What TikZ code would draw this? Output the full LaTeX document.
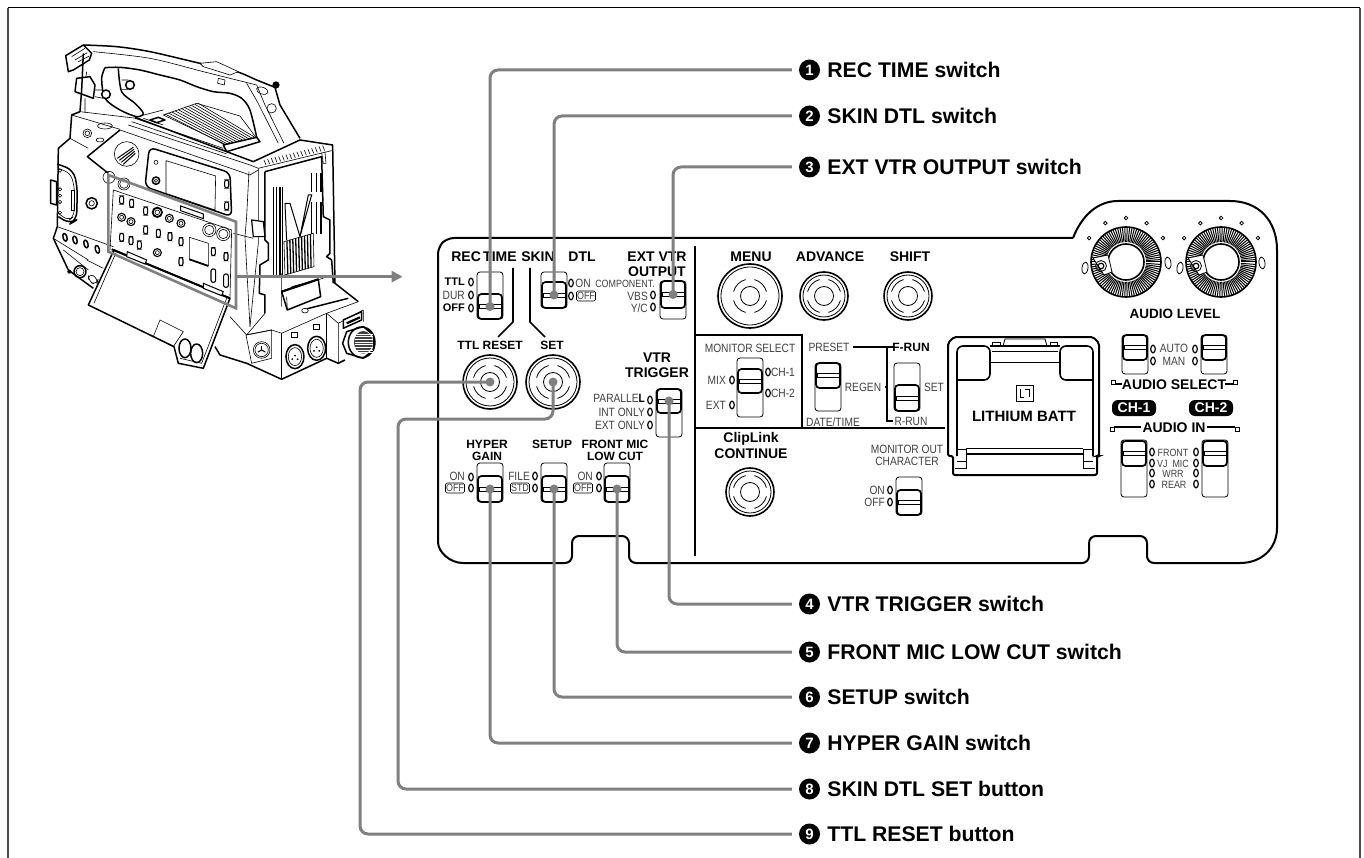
\documentclass[tikz,border=0pt]{standalone}
\usepackage{fontspec}
\setmainfont{Liberation Sans}
\newfontfamily\condfont[FakeStretch=0.85]{Liberation Sans}
\usetikzlibrary{arrows.meta,positioning}
\definecolor{leadgray}{gray}{0.5}
\definecolor{smalltext}{gray}{0.25}
\tikzset{
    panelline/.style={line width=1.6pt},
    thinline/.style={line width=0.8pt},
    camthick/.style={line width=1.5pt,line join=round},
    camthin/.style={line width=0.6pt,line join=round},
    leader/.style={draw=leadgray,line width=3pt,rounded corners=8pt},
    head/.style={inner sep=0pt,font=\bfseries\fontsize{14}{14}\selectfont},
    subhead/.style={inner sep=0pt,font=\bfseries\fontsize{12}{12}\selectfont},
    tiny/.style={inner sep=0pt,text=smalltext,font=\condfont\fontsize{12}{12}\selectfont},
    tinier/.style={inner sep=0pt,text=smalltext,font=\condfont\fontsize{10.5}{10.5}\selectfont},
    boxed/.style={tinier,draw=black,line width=0.6pt,rounded corners=1.5pt,minimum width=19pt,minimum height=10pt},
    numdot/.style={circle,fill=black,text=white,inner sep=0pt,minimum size=21pt,font=\bfseries\fontsize{15}{15}\selectfont},
    swlabel/.style={inner sep=0pt,font=\bfseries\fontsize{21.2}{22}\selectfont},
    pill/.style={fill=black,text=white,rounded corners=6pt,minimum width=44pt,minimum height=16pt,inner sep=0pt,font=\bfseries\fontsize{14}{14}\selectfont},
}
% name, left, slot top, slot bottom, thumb top, thumb bottom
\newcommand{\slideswitch}[6]{
    \draw[thinline,rounded corners=3pt] (#2,#3) rectangle ({#2+26},#4);
    \draw[fill=white,line width=1.7pt,rounded corners=3.5pt] ({#2+1},#5) rectangle ({#2+25},#6);
    \draw[line width=0.7pt] ({#2+2},{(#5+#6)/2-2}) rectangle ({#2+24},{(#5+#6)/2+2});
    \coordinate (#1) at ({#2+13},{(#5+#6)/2});
}
% name, x, y, outer radius
\newcommand{\pushbutton}[4]{
    \draw[panelline] (#2,#3) circle (#4);
    \draw[thinline] (#2,#3) circle ({#4-3});
    \draw[thinline] (#2,#3) circle (9.5);
    \foreach \a in {15,105,195,285}
        \draw[thinline] (#2,#3) ++(\a:17) arc[start angle=\a,delta angle=60,radius=17];
    \coordinate (#1) at (#2,#3);
}
\newcommand{\audioknob}[3]{
    \foreach \a in {0,4,...,356}
        \draw[line width=1pt] (#2,#3) ++(\a:20) -- ++(\a:15);
    \draw[panelline] (#2,#3) circle (35);
    \draw[panelline,fill=white] (#2,#3) circle (18);
    \foreach \a in {33,62,90,118,147}
        \draw[thinline] (#2,#3) ++(\a:-44) circle (1.8);
    \draw[thinline,fill=white] ({#2-33},{#3-4}) -- ({#2-18},{#3-7}) -- ({#2-14},{#3+10}) -- ({#2-22},{#3+13}) -- cycle;
    \draw[thinline] ({#2-25},{#3+4}) circle (5.5);
    \draw[line width=1.2pt] ({#2-25},{#3+4}) circle (2.8);
    \coordinate (#1) at (#2,#3);
}
\begin{document}
\begin{tikzpicture}[x=1pt,y=-1pt]
\useasboundingbox (0,0) rectangle (1364,858);

% frame
\draw[line width=1pt] (8,8) -- (1360,8);
\draw[line width=2pt,black!70] (8,8) -- (8,858);
\draw[line width=2pt,black!70] (1360,8) -- (1360,858);

% camera
\begin{scope}[shift={(30,30)},x=0.3333pt,y=-0.3333pt]
    % handle
    \draw[camthick,fill=white] (107,77) -- (160,45) -- (185,70) -- (178,90) -- (130,120) -- (115,125) -- cycle;
    \draw[camthin] (125,80) -- (165,55) (135,90) -- (172,68) (145,95) -- (178,78);
    \draw[camthick] plot[smooth] coordinates {(160,45) (260,50) (360,65) (510,100) (620,125) (680,150) (735,172)};
    \draw[camthin] plot[smooth] coordinates {(190,65) (360,85) (520,125) (620,150) (680,165)};
    \draw[camthick] plot[smooth] coordinates {(225,113) (270,112) (330,120) (390,135) (450,150) (500,170) (550,185) (600,190) (635,205) (660,240) (682,330)};
    \draw[camthick] (735,172) -- (750,225) -- (810,325);
    \draw[camthin] (680,165) -- (705,225) -- (762,340) (650,160) -- (682,215) -- (745,340);
    \fill (738,165) circle (11);
    \draw[camthin,fill=white] (510,100) -- (560,95) -- (625,125) -- (600,135) -- (520,110) -- cycle;
    \draw[camthin,fill=white] (565,145) -- (585,150) -- (583,165) -- (563,160) -- cycle;
    \draw[camthin,rotate around={-20:(697,182)}] (697,182) ellipse[x radius=18,y radius=10];
    \draw[camthin] (725,235) circle (14);
    % strut and rod
    \draw[camthick] plot[smooth] coordinates {(225,113) (215,145) (225,205) (270,240) (320,260) (340,250) (315,220) (275,185) (265,115)};
    \draw[camthick,fill=white] (140,145) -- (180,140) -- (195,165) -- (190,205) -- (135,185) -- cycle;
    \draw[camthick,fill=white] (228,193) circle (13);
    \draw[camthin] (195,180) -- (218,180) (195,200) -- (220,205) (275,150) -- (295,150) (275,178) -- (295,178);
    \draw[camthick,fill=white] (300,165) circle (13);
    \draw[camthick] (160,70) -- (155,180) -- (150,245);
    \draw[camthin] (170,125) -- (168,140) (165,205) -- (165,248);
    % upper body
    \draw[camthick] (150,245) -- (125,255) -- (120,325) -- (85,355) -- (82,590) -- (70,625) -- (115,720) -- (190,775);
    \draw[camthin] (150,245) -- (320,265) (125,255) -- (270,298) (120,325) -- (175,355);
    \draw[camthin] (172,310) circle (13) (172,310) circle (7);
    \draw[camthin] (225,288) ellipse[x radius=22,y radius=9] (210,330) ellipse[x radius=12,y radius=6];
    % ribbed top
    \draw[camthin,fill=white] (400,255) -- (500,220) -- (630,258) -- (680,325) -- (590,345) -- cycle;
    \foreach \i in {0,...,10}
        \draw[camthin] (405+\i*10,252-\i*3.2) -- (585+\i*9.5,345-\i*2);
    \draw[camthick,fill=white] (580,345) -- (680,322) -- (690,335) -- (590,365) -- cycle;
    \draw[camthin] (315,262) -- (400,240) (340,265) -- (400,285);
    \draw[camthick,fill=white] (360,270) -- (385,262) -- (405,270) -- (380,278) -- cycle;
    \draw[camthin] (315,265) -- (580,355) (305,275) -- (590,372) (295,285) -- (660,405);
    \draw[camthick] (315,262) -- (670,395);
    % face
    \draw[camthick] (270,300) -- (172,380) -- (235,430);
    \draw[camthin] (270,300) -- (660,435) -- (685,420);
    \draw[camthin] (290,372) circle (37);
    \foreach \i in {0,...,3}
        \draw[line width=1pt] (262+\i*6,385+\i*6) -- (310+\i*2,352+\i*6);
    \draw[camthick,rounded corners=6pt] (358,352) -- (600,428) -- (605,560) -- (345,470) -- cycle;
    \draw[camthin,fill=white] (408,392) -- (557,438) -- (555,540) -- (408,490) -- cycle;
    \draw[camthin] (378,397) circle (6);
    \draw[camthick] (378,452) circle (11);
    \draw[camthin] (378,452) circle (5);
    \draw[camthin] (237,442) circle (18) (282,462) circle (18) (282,462) circle (13);
    % side door
    \draw[camthick,rounded corners=8pt] (82,402) -- (130,420) -- (142,470) -- (140,570) -- (120,582) -- (85,560);
    \draw[camthin,rounded corners=6pt] (85,415) -- (122,430) -- (134,475) -- (132,560) -- (115,572) -- (85,550);
    \draw[camthin] (124,480) rectangle (132,540);
    \draw[camthick,fill=white] (62,450) -- (80,455) -- (80,525) -- (62,520) -- cycle;
    \foreach \y in {422,478,497,516,548}
        \draw[camthin] (90,\y) circle (5);
    \draw[camthick] (185,520) circle (17);
    \draw[camthin] (185,520) circle (8);
    % panel behind the flap
    \draw[camthin] (250,480) -- (605,600) -- (600,800) (250,480) -- (240,660);
    \draw[line width=1pt] (452,528) -- (520,552) -- (520,566) -- (452,542) -- cycle;
    \foreach \x/\y in {275/510,305/520,347/543,347/600,385/610,420/620,453/635,550/665,588/680,453/695,275/622,303/632,328/645,590/462,590/528}
        \draw[line width=1.1pt,rounded corners=2pt] (\x-6,\y-12) rectangle (\x+6,\y+12);
    \foreach \x/\y in {550/737,588/752}
        \draw[line width=1.1pt,rounded corners=2pt] (\x-7,\y-20) rectangle (\x+7,\y+20);
    \foreach \x/\y in {275/562,303/575,418/565,453/580,382/668}{
        \draw[line width=1.1pt] (\x,\y) circle (12);
        \draw[camthin] (\x,\y) circle (6);}
    \draw[line width=1.8pt] (382,547) circle (14);
    \draw[camthin] (382,547) circle (7);
    \draw[camthin] (538,600) circle (20) (538,600) circle (14) (580,612) circle (20) (580,612) circle (14);
    \draw[camthin] (478,622) -- (535,640) -- (535,708) -- (478,688) -- cycle;
    \draw[line width=1.8pt] (478,688) -- (535,708);
    % flap
    \draw[camthick,fill=white] (252,660) -- (175,825) -- (432,950) -- (445,1000) -- (520,1015) -- (600,805) -- cycle;
    \draw[camthin] (258,668) -- (192,820) (590,805) -- (515,1000) -- (450,985);
    \draw[line width=2pt] (245,658) -- (600,805);
    \draw[line width=1pt,fill=white] (292,665) -- (350,690) -- (345,702) -- (290,680) -- cycle;
    \draw[line width=1pt,fill=white] (520,760) -- (580,785) -- (575,797) -- (520,775) -- cycle;
    \draw[camthin] (390,870) -- (460,905) -- (430,950) -- (370,920) -- cycle;
    \draw[camthick] (465,955) ellipse[x radius=18,y radius=28];
    \draw[camthick] (500,970) ellipse[x radius=18,y radius=28];
    % right side
    \draw[camthick] (670,395) -- (810,330) -- (908,345) -- (915,760) -- (985,815);
    \draw[camthin] (685,415) -- (905,362) (875,368) -- (880,400) -- (888,400) -- (885,365);
    \foreach \i in {0,...,16}
        \draw[camthin] (708+\i*11,405-\i*2.7) -- (702+\i*11,390-\i*2.7);
    \draw[camthin] (660,405) -- (685,415) -- (685,640) -- (660,890);
    \draw[camthin] (657,425) -- (650,560) -- (645,620) -- (660,890);
    \draw[camthick] (705,425) -- (875,380) -- (880,560) -- (900,570) -- (900,670) -- (890,680) -- (905,690) -- (910,760);
    \draw[camthick] (705,425) -- (705,630) -- (715,640) -- (715,690) -- (690,705) -- (688,790) -- (705,795) -- (705,850);
    \draw[line width=1.2pt,fill=white] (665,570) -- (700,575) -- (705,620) -- (670,620) -- cycle;
    \draw[camthin] (610,610) -- (670,625);
    \foreach \x in {730,740,750,758}
        \draw[line width=1.1pt] (\x,470) -- (\x,735);
    \foreach \x in {845,860,873}{
        \draw[line width=1.1pt] (\x,430) -- (\x,485);
        \draw[line width=1.1pt] (\x,515) -- (\x,612);}
    \draw[line width=1pt] (765,520) -- (780,520) -- (810,620) -- (845,495) -- (835,495) -- (810,620) (765,520) -- (770,630);
    \draw[camthin] (762,635) -- (850,610) -- (852,710) -- (765,735) -- cycle;
    \foreach \i in {1,...,9}
        \draw[line width=1.3pt] (762+\i*8.8,635-\i*2.5) -- (765+\i*8.7,735-\i*2.5);
    % shoe and lever
    \draw[camthin] (755,730) -- (755,830) (785,770) -- (880,745);
    \draw[camthick,fill=white] (755,785) -- (865,748) -- (872,800) -- (772,840) -- cycle;
    \draw[line width=2.2pt] (755,785) -- (865,748);
    \draw[camthin] (770,800) -- (772,840);
    \draw[camthick] (825,838) -- (955,805);
    \draw[camthin,fill=white] (825,842) ellipse[x radius=10,y radius=7];
    % base
    \draw[camthin] (600,860) -- (650,915) (705,850) -- (650,915);
    \draw[camthin] (650,915) -- (725,900) -- (755,910) -- (890,850) -- (985,815);
    \draw[camthick] (555,950) -- (570,975) -- (650,1000) -- (755,1048) -- (890,985) -- (925,1000) -- (945,990);
    \draw[camthin] (755,910) -- (755,1048) (890,850) -- (890,985);
    \draw[camthin] (648,915) -- (725,900) -- (725,985) -- (665,1000) -- cycle (695,960) circle (25) (695,960) circle (20);
    \foreach \a in {30,150,270}
        \draw[line width=1pt] (695,960) -- ++(\a:13);
    \foreach \x/\y in {795/980,860/955}{
        \draw[camthick] (\x,\y) ellipse[x radius=27,y radius=36];
        \draw[camthin] (\x,\y) ellipse[x radius=20,y radius=27];
        \foreach \d in {-8,0,8}
            \fill (\x+\d,\y+\d*\d/6-3) circle (3);
        \draw[line width=1pt,fill=white] (\x-10,\y-72) rectangle (\x+8,\y-56);}
    \draw[camthin] (925,880) -- (925,1000) (890,850) -- (925,880) -- (1000,840) -- (1000,875);
    \draw[camthick,fill=white] (940,870) -- (995,845) -- (995,870) -- (940,895) -- cycle;
    \draw[line width=2.2pt] (950,880) -- (990,862);
    \draw[camthick,fill=white] (950,905) -- (1000,890) -- (1030,915) -- (1030,960) -- (1000,985) -- (950,970) -- (938,940) -- cycle;
    \draw[camthick] (995,937) ellipse[x radius=40,y radius=46];
    \fill[black!75] (1000,937) ellipse[x radius=28,y radius=34];
    \foreach \y in {912,920,...,968}
        \draw[white,line width=0.5pt] (975,\y) -- (1028,\y);
    % left lower
    \draw[camthin] (82,590) -- (250,650) (70,625) -- (175,690) (100,660) -- (175,720);
    \foreach \x/\y in {105/622,135/630,168/642,202/658}
        \draw[camthick,rotate around={15:(\x,\y)}] (\x,\y) ellipse[x radius=6,y radius=12];
    \draw[camthick] (150,725) circle (18);
    \draw[camthin] (150,725) circle (12);
    \fill (118,725) circle (6);
    \draw[camthin,rounded corners=6pt] (170,690) -- (220,715) (175,730) -- (205,745) -- (200,765) -- (175,755) -- cycle;
    % highlight and pointer
    \draw[line width=2.6pt,draw=leadgray] (235,435) -- (618,575) -- (618,835) -- (235,665) -- cycle;
    \coordinate (zoomfrom) at (620,740);
    \coordinate (zoomto) at (1118,740);
\end{scope}
\draw[draw=leadgray,fill=leadgray,line width=2.6pt,-{Triangle[length=11pt,width=11pt]}] (zoomfrom) -- (zoomto);

% panel outline
\draw[line width=2pt,rounded corners=7pt] (1073,238) -- (447,238) -- (438,247) -- (438,535)
    .. controls (438,552) and (450,563) .. (470,563) -- (572,563) -- (572,536) -- (629,536) -- (629,563)
    -- (1089,563) -- (1089,536) -- (1147,536) -- (1147,563) -- (1240,563);
\draw[line width=2pt] (1240,563) .. controls (1262,563) and (1277,548) .. (1277,528) -- (1277,250)
    .. controls (1277,220) and (1258,201) .. (1230,201) -- (1118,201) .. controls (1098,201) and (1082,215) .. (1073,238);
\draw[panelline] (695,246) -- (695,556) (695,335) -- (802,335) -- (802,428) (695,428) -- (945,428);
\draw[panelline] (513,268) -- (513,322) -- (498,337) (530,268) -- (530,322) -- (545,337);
\draw[panelline] (853,347) -- (893,347) (887,347) -- (887,421) -- (893,421) (885,387) -- (887,387);

% headings
\node[head] (rectime) at (484,257) {REC\hspace{-1.5pt} TIME};
\node[head] (skin) at (538,257) {SKIN};
\node[head] (dtl) at (582,257) {DTL};
\node[head] (extvtr) at (657,257) {EXT VTR};
\node[head] (output) at (657,272) {OUTPUT};
\node[subhead] (ttlreset) at (490,345) {TTL RESET};
\node[subhead] (settxt) at (552,345) {SET};
\node[head] (vtr) at (657,358) {VTR};
\node[head] (trigger) at (657,373) {TRIGGER};
\node[subhead] (hyper) at (487,444) {HYPER};
\node[subhead] (gain) at (487,456) {GAIN};
\node[subhead] (setup) at (552,444) {SETUP};
\node[subhead] (frontmic) at (615,444) {FRONT MIC};
\node[subhead] (lowcut) at (615,456) {LOW CUT};
\node[head] (menu) at (751,257) {MENU};
\node[head] (advance) at (830,257) {ADVANCE};
\node[head] (shift) at (910,257) {SHIFT};
\node[head] (cliplink) at (751,439) {ClipLink};
\node[head] (continue) at (751,454) {CONTINUE};
\node[subhead,font=\bfseries\fontsize{13.5}{14}\selectfont] (audiolevel) at (1175,314) {AUDIO LEVEL};
\node[head] (audioselect) at (1174,385) {AUDIO SELECT};
\node[head] (audioin) at (1174,428) {AUDIO IN};
\node[pill] (chone) at (1134,408) {CH-1};
\node[pill] (chtwo) at (1211,408) {CH-2};
\node[subhead] (frun) at (911,347) {F-RUN};

% small texts, placed by their right end
\foreach \x/\y/\txt/\nm in {465/295/DUR/dur,648/296/VBS/vbs,648/308/Y\slash C/yc,645/412/INT ONLY/intonly,645/425/EXT ONLY/extonly,465/476/ON/hon,530/476/FILE/file,593/476/ON/fon,726/380/MIX/mix,726/405/EXT/ext,885/490/ON/mon,885/502/OFF/moff}
    \node[tiny,anchor=east] (\nm) at (\x,\y) {\txt};
\foreach \x/\y/\txt/\nm in {783/372/CH-1/mone,783/393/CH-2/mtwo,583/283/ON/son,750/348/MONITOR SELECT/monsel,829/347/PRESET/preset,863/387/REGEN/regen,934/387/SET/settwo,911/421/R-RUN/rrun,833/422/DATE\slash TIME/datetime,907/449/MONITOR OUT/monout,907/461/CHARACTER/charac,1174/348/AUTO/auto,1174/361/MAN/man}
    \node[tiny] (\nm) at (\x,\y) {\txt};
\foreach \x/\y/\txt/\nm in {625/284/COMPONENT./component,1173/452.5/FRONT/front,1173/463.5/VJ\ \ MIC/vjmic,1173/474/WRR/wrr,1174/485/REAR/rear}
    \node[tinier] (\nm) at (\x,\y) {\txt};
\node[tiny,anchor=east,text=black,font=\bfseries\fontsize{11}{11}\selectfont] (ttl) at (465,282) {TTL};
\node[tiny,anchor=east,text=black,font=\bfseries\fontsize{11}{11}\selectfont] (off) at (465,308) {OFF};
\node[tiny,anchor=east] (parallel) at (645,398) {PARALLE{\bfseries\color{black}L}};
\node[boxed] (soff) at (586,296) {OFF};
\node[boxed] (hoff) at (455,488) {OFF};
\node[boxed] (std) at (520,488) {STD};
\node[boxed] (foff) at (583,488) {OFF};

% lamps
\foreach \x/\y in {471/282,471/295,471/308,571/283,571/296,653/295,653/307,650/400,650/412,650/425,471/477,471/488,535/476,535/488,599/476,599/488,
    732/380,732/405,768/372,768/393,890/490,890/502,1153/349,1153/361,1195/349,1195/361,1152/452,1152/463,1152/473,1152/484,1196/452,1196/463,1196/473,1196/484}
    \draw[line width=1.2pt] (\x,\y) ellipse[x radius=2.3,y radius=3.8];

% switches
\slideswitch{recsw}{477}{272}{319}{294}{319}
\slideswitch{skinsw}{541}{272}{308}{282}{308}
\slideswitch{extsw}{660}{281}{319}{281}{308}
\slideswitch{trigsw}{656}{389}{437}{389}{413}
\slideswitch{hypersw}{477}{463}{502}{476}{502}
\slideswitch{setupsw}{541}{463}{502}{476}{502}
\slideswitch{frontsw}{604}{463}{502}{476}{502}
\slideswitch{monsw}{737}{358}{417}{369}{393}
\slideswitch{regensw}{815}{363}{411}{363}{388}
\slideswitch{runsw}{894}{363}{411}{385}{411}
\slideswitch{charsw}{896}{477}{515}{490}{515}
\slideswitch{levlsw}{1122}{335}{374}{335}{360}
\slideswitch{levrsw}{1201}{335}{374}{335}{360}
\slideswitch{inlsw}{1121}{440}{497}{441}{466}
\slideswitch{inrsw}{1202}{440}{497}{441}{466}

% buttons
\pushbutton{ttlbtn}{490}{382}{27}
\pushbutton{setbtn}{553}{382}{27}
\pushbutton{menubtn}{750}{296}{32}
\pushbutton{advbtn}{824}{296}{24}
\pushbutton{shiftbtn}{908}{296}{24}
\pushbutton{clipbtn}{750}{492}{24}

% audio knobs and brackets
\audioknob{levelknob}{1126}{262}
\audioknob{rightknob}{1221}{262}
\foreach \x/\y/\r in {1085/268/-8,1168/263/8,1180/268/-8,1262/263/8}
    \draw[thinline,rotate around={\r:(\x,\y)}] (\x,\y) ellipse[x radius=3,y radius=6];
\draw[panelline] (1115,384) -- (1122,384) (1225,384) -- (1233,384) (1114,427) -- (1141,427) (1207,427) -- (1235,427);
\foreach \x/\y in {1113/382,1235/382,1112/429,1237/429}
    \draw[line width=1pt,fill=white] (\x-2,\y-2) rectangle (\x+2,\y+2);

% battery lid
\draw[line width=2pt,rounded corners=2pt] (948,456) -- (948,343) -- (954,337) -- (1093,337) -- (1099,343) -- (1099,456) -- (1097,456) -- (1097,475) -- (953,475) -- (953,456) -- cycle;
\draw[panelline,rounded corners=6pt] (957,456) -- (957,346) -- (990,346) -- (990,380) -- (957,380);
\draw[panelline,rounded corners=6pt] (1093,456) -- (1093,346) -- (1060,346) -- (1060,380) -- (1093,380);
\draw[thinline] (990,362) -- (1060,362) (992,351) -- (1058,351) (992,346) -- (992,342) -- (1000,342) -- (1000,346) (1050,346) -- (1050,342) -- (1057,342) -- (1057,346);
\draw[panelline] (990,346) -- (1060,346);
\draw[thinline] (1003,346) -- (1005,339) -- (1045,339) -- (1047,346);
\draw[thinline] (957,449) -- (966,449) -- (966,468) -- (955,468) (957,461) -- (966,461) (1093,449) -- (1083,449) -- (1083,468) -- (1095,468) (1093,461) -- (1083,461) (966,448) -- (1083,448);
\draw[panelline] (966,454) -- (1083,454);
\draw[thinline] (1016,385) rectangle (1033,401);
\draw[line width=1pt] (1020,389) -- (1020,397) -- (1024,397) (1025,389) -- (1029,389) -- (1029,397);
\node[head,font=\bfseries\fontsize{15}{15}\selectfont] (lithium) at (1024,416) {LITHIUM BATT};

% numbered labels
\foreach \n/\y/\txt in {1/70/REC TIME switch,2/116/SKIN DTL switch,3/167/EXT VTR OUTPUT switch,4/604/VTR TRIGGER switch,5/652/FRONT MIC LOW CUT switch,6/697/SETUP switch,7/743/HYPER GAIN switch,8/789/SKIN DTL SET button,9/834/TTL RESET button}{
    \node[numdot] (num\n) at (809.5,\y) {\n};
    \node[swlabel,right=7pt of num\n] (lab\n) {\txt};
}

% leaders
\foreach \st in {recsw,skinsw,extsw,trigsw,hypersw,setupsw,frontsw,ttlbtn,setbtn}
    \fill[leadgray] (\st) circle (4.5);
\draw[leader,shorten >=7pt] (recsw) |- (num1.west);
\draw[leader,shorten >=7pt] (skinsw) |- (num2.west);
\draw[leader,shorten >=7pt] (extsw) |- (num3.west);
\draw[leader,shorten >=7pt] (trigsw) |- (num4.west);
\draw[leader,shorten >=7pt] (frontsw) |- (num5.west);
\draw[leader,shorten >=7pt] (setupsw) |- (num6.west);
\draw[leader,shorten >=7pt] (hypersw) |- (num7.west);
\draw[leader,shorten >=7pt] (setbtn) -- (553,419) -- (398,419) |- (num8.west);
\draw[leader,shorten >=7pt] (ttlbtn) -- (360,382) |- (num9.west);
\end{tikzpicture}
\end{document}
